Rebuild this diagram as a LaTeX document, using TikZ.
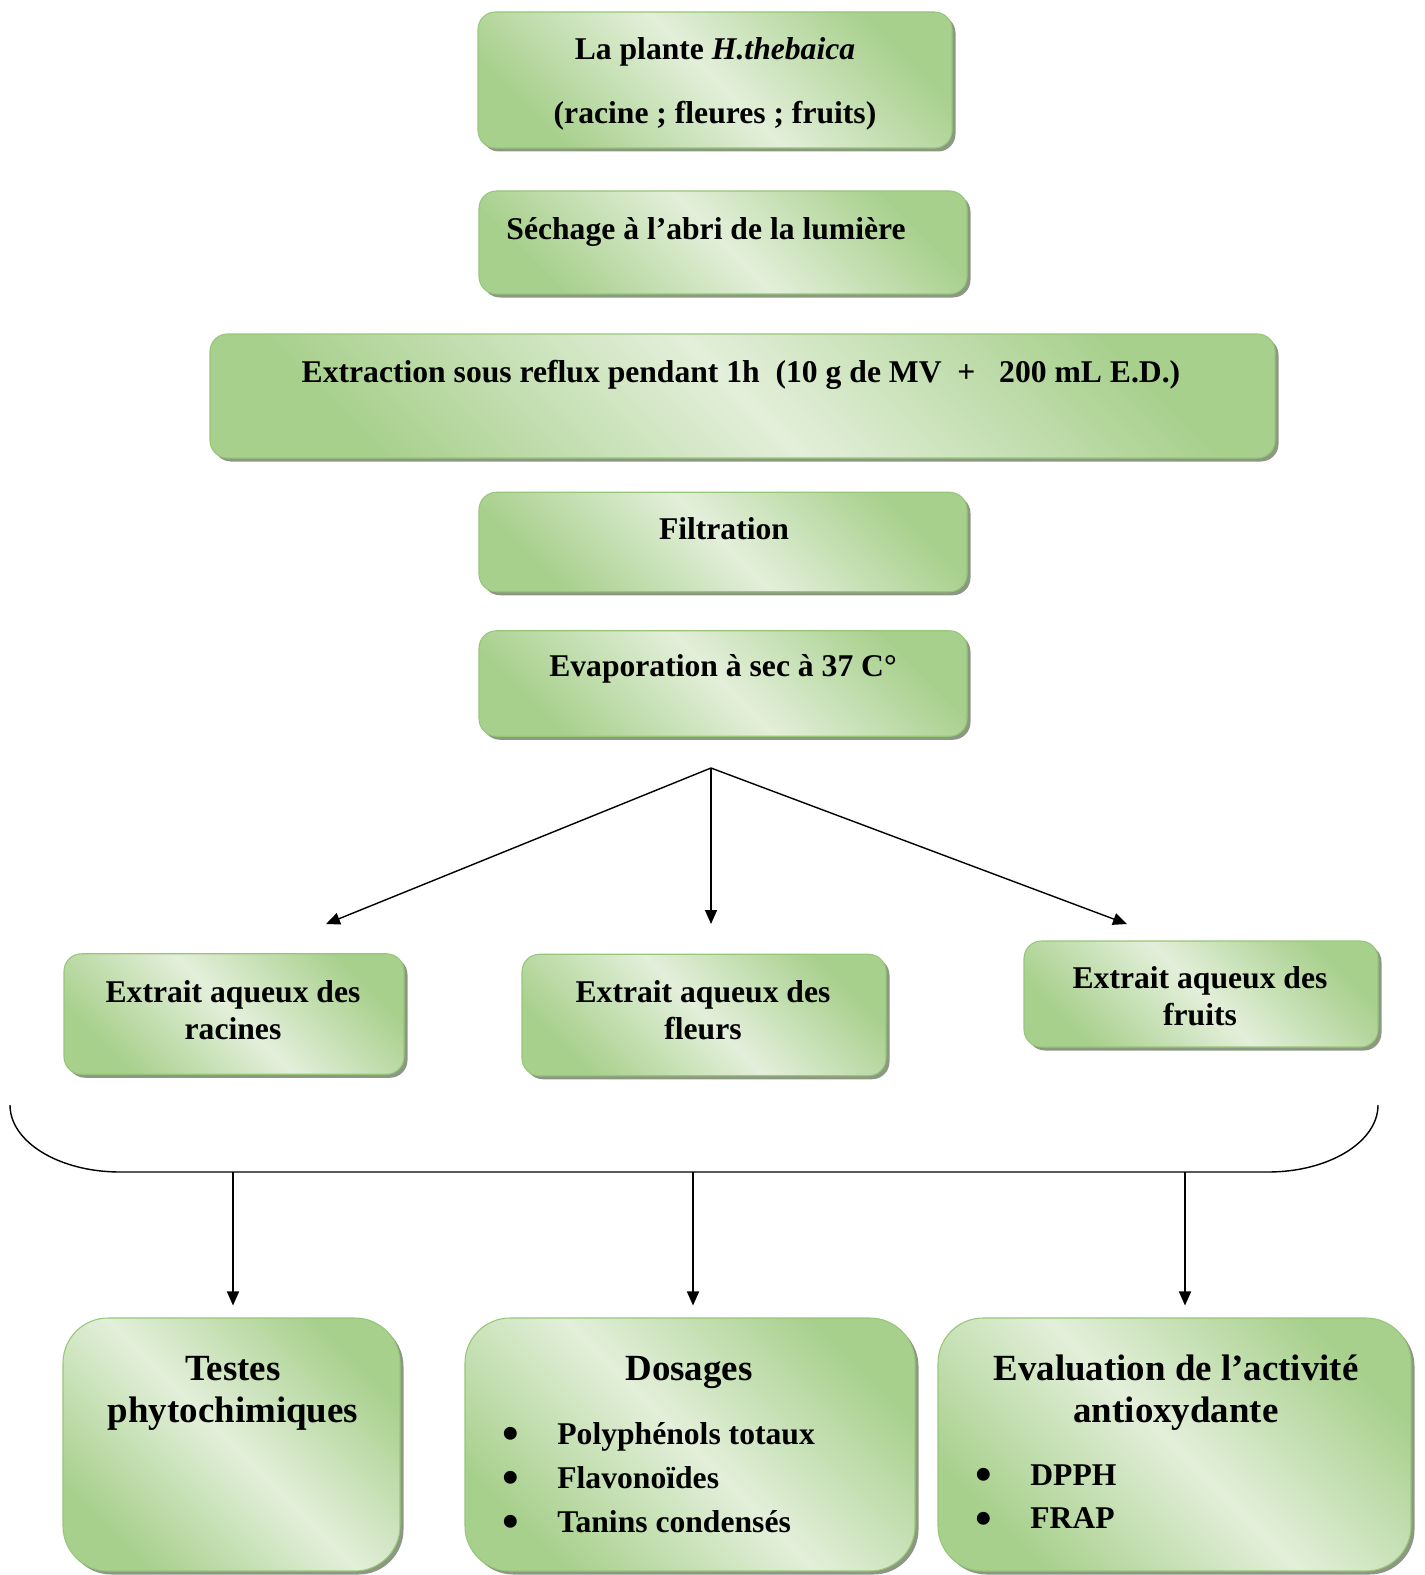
\documentclass[tikz,border=0pt]{standalone}
\usepackage{fontspec}
\setmainfont{Liberation Serif}
\usetikzlibrary{arrows.meta, positioning, shadows, calc}
\definecolor{vertclair}{RGB}{227,239,218}
\definecolor{vertfonce}{RGB}{168,208,141}
\definecolor{vertbord}{RGB}{150,198,120}
\definecolor{ombre}{RGB}{140,152,130}
\newcommand{\puce}{\makebox[1.1cm][l]{\raisebox{-0.4ex}{\scalebox{1.5}{\textbullet}}}}

\begin{document}
\begin{tikzpicture}[
        etape/.style={rectangle, rounded corners=0.35cm, draw=vertbord, line width=0.6pt,
            top color=vertfonce, bottom color=vertfonce, middle color=vertclair, shading angle=-45,
            drop shadow={shadow xshift=0.07cm, shadow yshift=-0.07cm, fill=ombre, opacity=1},
            inner sep=0pt, align=center, font=\bfseries\fontsize{18}{21}\selectfont},
        bilan/.style={etape, rounded corners=0.9cm},
        texte/.style={align=center, font=\bfseries\fontsize{18}{21}\selectfont},
        titre/.style={align=center, font=\bfseries\fontsize{21}{24}\selectfont},
        liste/.style={align=left, inner sep=0pt, anchor=west, font=\bfseries\fontsize{18}{25}\selectfont},
        fleche/.style={-{Triangle[length=0.28cm, width=0.24cm]}, line width=0.8pt}
    ]
        \useasboundingbox (0,0) rectangle (28.48,-31.5);

        % Preparation
        \node[etape, minimum width=9.48cm, minimum height=2.72cm] (plante) at (14.3,-1.6) {};
        \node[texte] (tplante) at (14.3,-1.68) {La plante \textit{H.thebaica}\\[0.54cm](racine ; fleures ; fruits)};
        \node[etape, minimum width=9.76cm, minimum height=2.06cm] (sechage) at (14.46,-4.85) {};
        \node[texte] (tsechage) at (14.12,-4.64) {Séchage à l’abri de la lumière};
        \node[etape, minimum width=21.3cm, minimum height=2.48cm] (extraction) at (14.85,-7.92) {};
        \node[texte] (textraction) at (14.82,-7.49) {Extraction sous reflux pendant 1h~~(10 g de MV~~+~~~200 mL E.D.)};
        \node[etape, minimum width=9.76cm, minimum height=1.99cm] (filtration) at (14.46,-10.84) {};
        \node[texte] (tfiltration) at (14.48,-10.58) {Filtration};
        \node[etape, minimum width=9.76cm, minimum height=2.11cm] (evaporation) at (14.46,-13.67) {};
        \node[texte] (tevaporation) at (14.46,-13.38) {Evaporation à sec à 37 C°};

        % Separation des extraits
        \coordinate (hub) at (14.22,-15.36);
        \coordinate (cible1) at (6.52,-18.48);
        \coordinate (cible2) at (14.22,-18.48);
        \coordinate (cible3) at (22.54,-18.48);
        \draw[fleche] (hub) -- (cible1);
        \draw[fleche] (hub) -- (cible2);
        \draw[fleche] (hub) -- (cible3);

        \node[etape, minimum width=6.8cm, minimum height=2.41cm] (racines) at (4.68,-20.28) {};
        \node[texte] (tracines) at (4.66,-20.2) {Extrait aqueux des\\racines};
        \node[etape, minimum width=7.28cm, minimum height=2.43cm] (fleurs) at (14.08,-20.3) {};
        \node[texte] (tfleurs) at (14.06,-20.2) {Extrait aqueux des\\fleurs};
        \node[etape, minimum width=7.08cm, minimum height=2.12cm] (fruits) at (24.02,-19.88) {};
        \node[texte] (tfruits) at (24.0,-19.92) {Extrait aqueux des\\fruits};

        % Accolade
        \draw[line width=0.8pt] (0.2,-22.1) arc[start angle=180, end angle=270, x radius=2.2cm, y radius=1.34cm]
            -- (25.36,-23.44) arc[start angle=270, end angle=360, x radius=2.2cm, y radius=1.34cm];
        \coordinate (dep1) at (4.66,-23.44);
        \coordinate (dep2) at (13.86,-23.44);
        \coordinate (dep3) at (23.7,-23.44);

        % Analyses
        \node[bilan, minimum width=6.74cm, minimum height=5.06cm] (testes) at (4.63,-28.89) {};
        \node[titre] (ttestes) at (4.66,-27.86) {Testes\\phytochimiques};
        \node[bilan, minimum width=9cm, minimum height=5.06cm] (dosages) at (13.8,-28.89) {};
        \node[titre] (tdosages) at (13.78,-27.44) {Dosages};
        \node[liste] (ldosages) at (10.04,-29.6) {\puce Polyphénols totaux\\\puce Flavonoïdes\\\puce Tanins condensés};
        \node[bilan, minimum width=9.46cm, minimum height=5.06cm] (evaluation) at (23.49,-28.89) {};
        \node[titre] (tevaluation) at (23.52,-27.86) {Evaluation de l’activité\\antioxydante};
        \node[liste] (levaluation) at (19.5,-29.99) {\puce DPPH\\\puce FRAP};

        \draw[fleche, shorten >=0.24cm] (dep1) -- (dep1 |- testes.north);
        \draw[fleche, shorten >=0.24cm] (dep2) -- (dep2 |- dosages.north);
        \draw[fleche, shorten >=0.24cm] (dep3) -- (dep3 |- evaluation.north);
    \end{tikzpicture}
\end{document}
